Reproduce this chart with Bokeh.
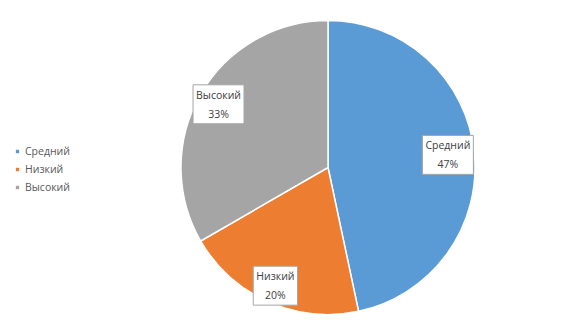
import math
from bokeh.plotting import figure
from bokeh.models import ColumnDataSource, Range1d, Label, Legend, LegendItem
from bokeh.embed import file_html
from bokeh.resources import INLINE

categories = ["Средний", "Низкий", "Высокий"]
values = [14, 6, 10]
colors = ["#5B9BD5", "#ED7D31", "#A5A5A5"]

W, H = 560, 320
total = sum(values)
shares = [v / total for v in values]
starts, ends, mids = [], [], []
cum = 0.0
for s in shares:
    a0 = math.pi / 2 - 2 * math.pi * cum
    a1 = math.pi / 2 - 2 * math.pi * (cum + s)
    starts.append(a0)
    ends.append(a1)
    mids.append((a0 + a1) / 2)
    cum += s

cx, cy, r = 327.5, 153, 147

src = ColumnDataSource(dict(cat=categories, val=values, color=colors,
                            start=starts, end=ends))

p = figure(width=W, height=H, output_backend="svg", toolbar_location=None,
           x_range=Range1d(0, W), y_range=Range1d(0, H), min_border=0)
p.axis.visible = False
p.grid.visible = False
p.outline_line_color = None
p.background_fill_color = "white"

wr = p.wedge(x=cx, y=cy, radius=r, start_angle="start", end_angle="end",
             direction="clock", fill_color="color", line_color="white",
             line_width=1.5, source=src)

label_frac = [0.82, 0.88, 0.86]
for i, cat in enumerate(categories):
    pct = round(shares[i] * 100)
    lx = cx + r * label_frac[i] * math.cos(mids[i])
    ly = cy + r * label_frac[i] * math.sin(mids[i])
    p.add_layout(Label(x=lx, y=ly, text=f"{cat}\n{pct}%", text_align="center",
                       text_baseline="middle", text_font="Open Sans",
                       text_font_size="10.5px", text_color="#404040",
                       text_line_height=1.35,
                       background_fill_color="white",
                       border_line_color="#A6A6A6", border_line_width=1,
                       padding=3))

items = [LegendItem(label=c, renderers=[wr], index=i) for i, c in enumerate(categories)]
legend = Legend(items=items, location=(14, 124), glyph_width=6, glyph_height=6,
                label_text_font="Open Sans", label_text_font_size="10.5px",
                label_text_color="#595959", label_height=18, label_standoff=5,
                spacing=0, padding=0, margin=0, border_line_color=None,
                background_fill_alpha=0)
p.add_layout(legend)

open("out.html", "w").write(file_html(p, INLINE))
